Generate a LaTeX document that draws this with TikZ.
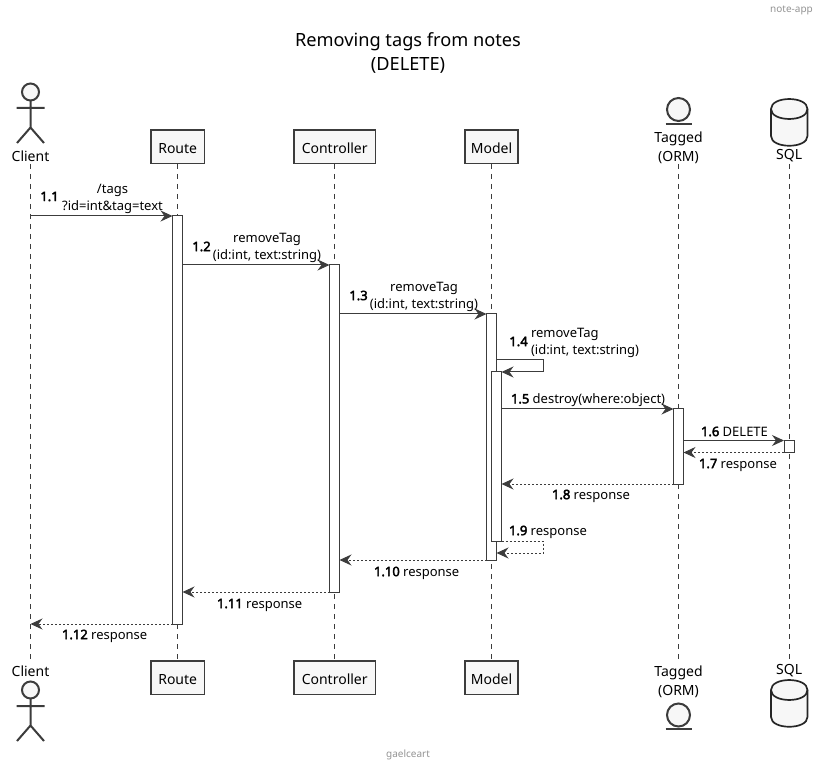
\documentclass[tikz,border=0pt]{standalone}
\usepackage{fontspec}
\setmainfont{Noto Sans}[AutoFakeBold=3]
\usetikzlibrary{arrows.meta}
\definecolor{umlline}{HTML}{3C3C3C}
\definecolor{umlfill}{HTML}{F7F7F7}
\tikzset{
    life/.style={draw=umlline, line width=0.8pt, dash pattern=on 5pt off 5pt},
    party/.style={draw=umlline, fill=umlfill, line width=1.4pt, inner sep=0pt, outer sep=0pt, minimum height=33.5pt, text height=13pt, text depth=0pt, font=\fontsize{14}{16}\selectfont},
    partcap/.style={inner sep=0pt, outer sep=0pt, align=center, font=\fontsize{14}{19}\selectfont},
    bar/.style={draw=umlline, fill=white, line width=1pt, inner sep=0pt, outer sep=0pt, minimum width=10pt},
    msg/.style={draw=umlline, line width=1pt, -{Stealth[length=12pt, width=11pt, inset=4pt]}},
    back/.style={msg, dash pattern=on 2pt off 2pt},
    lbl/.style={inner sep=0pt, outer sep=0pt, align=center, font=\fontsize{13}{17.5}\selectfont},
    num/.style={lbl, font=\fontsize{13}{17.5}\selectfont\bfseries},
    figure/.style={draw=umlline, fill=umlfill, line width=2pt},
    dbfig/.style={draw=black!85, fill=umlfill, line width=1.7pt},
    grayt/.style={inner sep=0pt, text=gray!85, font=\fontsize{10}{12}\selectfont}
}
\begin{document}
\begin{tikzpicture}[x=1pt, y=-1pt]
    \useasboundingbox (0,0) rectangle (823,770);
    % Header, title, footer
    \node[grayt, anchor=east] (hdr) at (813,10) {note-app};
    \node[inner sep=0pt, align=center, font=\fontsize{18.2}{24}\selectfont] (ttl) at (408,53) {Removing tags from notes\\(DELETE)};
    \node[grayt] (ftr) at (408,755) {gaelceart};
    % Participants, top and bottom
    \foreach \sfx/\yy/\yc in {T/146.8/156, B/677.8/671} {
        \node[partcap] (client\sfx) at (30.5,\yc) {Client};
        \node[party, minimum width=53.5pt] (route\sfx) at (177.7,\yy) {Route};
        \node[party, minimum width=81.5pt] (ctrl\sfx) at (334.7,\yy) {Controller};
        \node[party, minimum width=53pt] (model\sfx) at (491.5,\yy) {Model};
        \node[partcap] (sql\sfx) at (789.2,\yc) {SQL};
    }
    \node[partcap] (taggedT) at (678.5,147.5) {Tagged\\(ORM)};
    \node[partcap] (taggedB) at (678.5,681.5) {Tagged\\(ORM)};
    \coordinate (lifeTop) at (0,164);
    \coordinate (lifeEnd) at (0,660);
    % Lifelines
    \foreach \nm in {client, route, ctrl, model, tagged, sql}
        \draw[life] (\nm T.south |- lifeTop) -- (\nm T.south |- lifeEnd);
    % Actor figures
    \foreach \yo in {92, 690} {
        \draw[figure] (30.5,\yo) circle (8.5);
        \draw[figure, fill=none] (30.5,\yo+8.5) -- (30.5,\yo+35.5) (16.5,\yo+16) -- (44.5,\yo+16)
            (17,\yo+51) -- (30.5,\yo+35.5) -- (44,\yo+51);
    }
    % Entity figures
    \foreach \yo in {109.5, 715} {
        \draw[figure] (678.5,\yo) circle (11.5);
        \draw[figure, fill=none] (665.7,\yo+14.3) -- (691.7,\yo+14.3);
    }
    % Database figures
    \foreach \yo in {99, 680} {
        \draw[dbfig] (771,\yo+10) .. controls (771,\yo-3.3) and (807.5,\yo-3.3) .. (807.5,\yo+10)
            -- (807.5,\yo+37) .. controls (807.5,\yo+50) and (771,\yo+50) .. (771,\yo+37) -- cycle;
        \draw[dbfig, fill=none] (771,\yo+10) .. controls (771,\yo+23.3) and (807.5,\yo+23.3) .. (807.5,\yo+10);
    }
    % Activation bars
    \node[bar, minimum height=408pt] (acRoute) at (177.5,420) {};
    \node[bar, minimum height=327pt] (acCtrl) at (334.5,428.5) {};
    \node[bar, minimum height=246pt] (acModel) at (491.5,437) {};
    \node[bar, minimum height=169pt] (acInner) at (496.5,456.5) {};
    \node[bar, minimum height=75pt] (acTagged) at (678.5,446.5) {};
    \node[bar, minimum height=12pt] (acSql) at (789,446.5) {};
    % Calls
    \draw[msg] (clientT.south |- acRoute.north) -- (acRoute.north west);
    \draw[msg] (acRoute.east |- acCtrl.north) -- (acCtrl.north west);
    \draw[msg] (acCtrl.east |- acModel.north) -- (acModel.north west);
    \coordinate (selfA) at (496.5,360);
    \coordinate (selfB) at (543,360);
    \coordinate (selfC) at (543,372);
    \draw[msg] (selfA) -- (selfB) -- (selfC) -- (acInner.north east);
    \draw[msg] (acInner.east |- acTagged.north) -- (acTagged.north west);
    \draw[msg] (acTagged.east |- acSql.north) -- (acSql.north west);
    % Returns
    \draw[back] (acSql.south west) -- (acTagged.east |- acSql.south);
    \draw[back] (acTagged.south west) -- (acInner.east |- acTagged.south);
    \coordinate (retB) at (543,541);
    \coordinate (retC) at (543,553);
    \draw[back] (acInner.south east) -- (retB) -- (retC) -- (acModel.east |- retC);
    \draw[back] (acModel.south west) -- (acCtrl.east |- acModel.south);
    \draw[back] (acCtrl.south west) -- (acRoute.east |- acCtrl.south);
    \draw[back] (acRoute.south west) -- (clientT.south |- acRoute.south);
    % Message labels
    \node[num] (n1) at (49.5,196.5) {1.1};
    \node[lbl] (t1) at (112.5,198.7) {/tags\\?id=int\&tag=text};
    \node[num] (n2) at (201.5,246.5) {1.2};
    \node[lbl] (t2) at (267,247.7) {removeTag\\(id:int, text:string)};
    \node[num] (n3) at (358.5,295.5) {1.3};
    \node[lbl] (t3) at (424,296.7) {removeTag\\(id:int, text:string)};
    \node[num] (n4) at (518.5,341.5) {1.4};
    \node[lbl, anchor=west, align=left] (t4) at (531,342.7) {removeTag\\(id:int, text:string)};
    \node[lbl, anchor=west] (t5) at (511,400) {\textbf{1.5} destroy(where:object)};
    \node[lbl, anchor=west] (t6) at (701,431.5) {\textbf{1.6} DELETE};
    \node[lbl, anchor=west] (t7) at (699,465) {\textbf{1.7} response};
    \node[lbl, anchor=west] (t8) at (552,496) {\textbf{1.8} response};
    \node[lbl, anchor=west] (t9) at (509,532) {\textbf{1.9} response};
    \node[lbl, anchor=west] (t10) at (374,573) {\textbf{1.10} response};
    \node[lbl, anchor=west] (t11) at (217,605) {\textbf{1.11} response};
    \node[lbl, anchor=west] (t12) at (62,636) {\textbf{1.12} response};
\end{tikzpicture}
\end{document}
